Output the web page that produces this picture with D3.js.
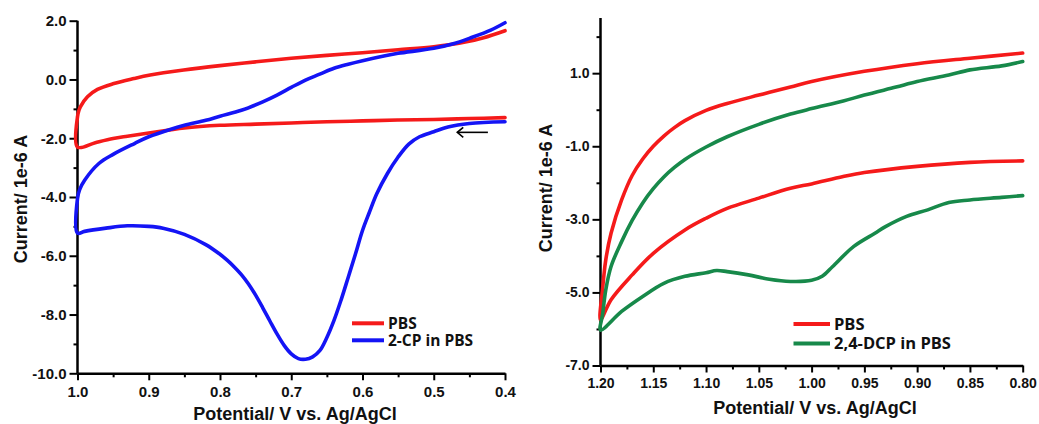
<!DOCTYPE html>
<html>
<head>
<meta charset="utf-8">
<script src="https://cdn.jsdelivr.net/npm/d3@7"></script>
<style>
  html, body { margin: 0; padding: 0; background: #fff; }
  svg { display: block; }
  .tick text { font-family: "Liberation Sans", Arial, sans-serif; font-weight: bold; fill: #111; }
  .title { font-family: "Liberation Sans", Arial, sans-serif; font-weight: bold; font-size: 18px; fill: #111; }
  .legend { font-family: "Open Sans", sans-serif; font-weight: bold; fill: #111; }
</style>
</head>
<body>
<svg id="chart" width="1039" height="424"></svg>
<script>
// ---------- Left panel data: potential (V) , current (1e-6 A) ----------
const leftPBS = [
  [0.40,-1.30],[0.45,-1.33],[0.50,-1.36],[0.55,-1.38],[0.60,-1.41],[0.65,-1.44],[0.70,-1.48],[0.75,-1.52],
  [0.80,-1.56],[0.85,-1.65],[0.90,-1.82],[0.93,-1.93],[0.95,-2.01],[0.975,-2.15],[1.00,-2.30],
  [1.00,-1.27],[0.998,-1.05],[0.996,-0.93],[0.986,-0.59],[0.972,-0.34],[0.949,-0.14],[0.921,0.03],
  [0.898,0.15],[0.851,0.32],[0.80,0.47],[0.75,0.60],[0.70,0.72],[0.65,0.82],[0.60,0.91],[0.55,1.01],
  [0.50,1.11],[0.454,1.28],[0.43,1.42],[0.40,1.66]
];
const leftCP = [
  [0.40,-1.44],[0.45,-1.50],[0.48,-1.62],[0.50,-1.78],[0.52,-1.95],[0.535,-2.20],[0.55,-2.64],[0.565,-3.20],
  [0.58,-3.89],[0.59,-4.50],[0.60,-5.14],[0.61,-5.95],[0.62,-6.73],[0.63,-7.50],[0.64,-8.20],[0.65,-8.78],
  [0.66,-9.23],[0.67,-9.44],[0.68,-9.52],[0.69,-9.50],[0.70,-9.34],[0.71,-9.05],[0.72,-8.66],[0.73,-8.22],
  [0.74,-7.77],[0.75,-7.34],[0.76,-6.96],[0.77,-6.64],[0.78,-6.38],[0.79,-6.15],[0.80,-5.95],[0.82,-5.62],
  [0.85,-5.27],[0.88,-5.06],[0.90,-5.00],[0.93,-4.98],[0.96,-5.06],[0.99,-5.17],[1.00,-5.23],
  [1.00,-4.05],[0.997,-3.75],[0.99,-3.43],[0.97,-2.86],[0.95,-2.55],[0.92,-2.18],[0.90,-1.95],[0.87,-1.70],
  [0.85,-1.56],[0.82,-1.39],[0.80,-1.25],[0.77,-1.05],[0.74,-0.76],[0.72,-0.53],[0.70,-0.27],[0.68,-0.02],
  [0.66,0.18],[0.64,0.38],[0.62,0.52],[0.60,0.64],[0.57,0.80],[0.55,0.89],[0.50,1.06],[0.47,1.23],
  [0.45,1.40],[0.42,1.68],[0.40,1.93]
];
const leftXTicks = [1.0,0.9,0.8,0.7,0.6,0.5,0.4];
const leftXMinor = [0.95,0.85,0.75,0.65,0.55,0.45];
const leftYTicks = [2,0,-2,-4,-6,-8,-10];
const leftYMinor = [1,-1,-3,-5,-7,-9];
const leftLegend = ["PBS","2-CP in PBS"];

// ---------- Right panel data ----------
const rightPBS = [
  [0.80,-1.40],[0.85,-1.44],[0.90,-1.55],[0.95,-1.72],[0.97,-1.83],[1.00,-2.03],[1.02,-2.15],[1.05,-2.42],
  [1.08,-2.70],[1.10,-2.97],[1.12,-3.29],[1.15,-3.93],[1.17,-4.52],[1.19,-5.20],[1.20,-5.75],
  [1.198,-4.90],[1.195,-4.11],[1.19,-3.38],[1.18,-2.47],[1.17,-1.80],[1.16,-1.35],[1.15,-1.00],[1.14,-0.72],
  [1.13,-0.49],[1.12,-0.30],[1.10,-0.02],[1.08,0.17],[1.05,0.40],[1.02,0.62],[1.00,0.77],[0.95,1.05],
  [0.90,1.26],[0.85,1.41],[0.80,1.55]
];
const rightDCP = [
  [0.80,-2.35],[0.82,-2.40],[0.85,-2.47],[0.87,-2.54],[0.89,-2.74],[0.91,-2.92],[0.93,-3.20],[0.94,-3.38],
  [0.96,-3.74],[0.98,-4.29],[0.99,-4.56],[1.00,-4.67],[1.02,-4.70],[1.04,-4.64],[1.06,-4.52],[1.08,-4.43],
  [1.09,-4.40],[1.10,-4.46],[1.12,-4.56],[1.14,-4.75],[1.16,-5.11],[1.18,-5.52],[1.20,-6.03],
  [1.198,-5.60],[1.195,-4.93],[1.19,-4.29],[1.18,-3.61],[1.17,-3.03],[1.16,-2.55],[1.15,-2.16],[1.14,-1.84],
  [1.13,-1.58],[1.12,-1.36],[1.10,-1.02],[1.08,-0.74],[1.05,-0.40],[1.02,-0.12],[1.00,0.03],[0.97,0.24],
  [0.95,0.40],[0.92,0.62],[0.90,0.77],[0.87,0.95],[0.85,1.09],[0.82,1.20],[0.80,1.32]
];
const rightXTicks = [1.20,1.15,1.10,1.05,1.00,0.95,0.90,0.85,0.80];
const rightXMinor = [1.175,1.125,1.075,1.025,0.975,0.925,0.875,0.825];
const rightYTicks = [1,-1,-3,-5,-7];
const rightYMinor = [2,0,-2,-4,-6];
const rightLegend = ["PBS","2,4-DCP in PBS"];

const axisTitleX = "Potential/ V vs. Ag/AgCl";
const axisTitleY = "Current/ 1e-6 A";

const RED = "#f51a1a", BLUE = "#1414f5", GREEN = "#17894a";

const svg = d3.select("#chart");

function panel(cfg) {
  const g = svg.append("g");
  const x = d3.scaleLinear().domain(cfg.xDomain).range([cfg.x0, cfg.x1]);
  const y = d3.scaleLinear().domain(cfg.yDomain).range([cfg.y1, cfg.y0]);

  // minor ticks
  g.append("g").attr("transform", `translate(0,${cfg.y1})`)
    .call(d3.axisBottom(x).tickValues(cfg.xMinor).tickSize(4).tickFormat(""))
    .call(a => a.select(".domain").remove())
    .call(a => a.selectAll("line").attr("stroke", "#000").attr("stroke-width", 2));
  g.append("g").attr("transform", `translate(${cfg.x0},0)`)
    .call(d3.axisLeft(y).tickValues(cfg.yMinor).tickSize(4).tickFormat(""))
    .call(a => a.select(".domain").remove())
    .call(a => a.selectAll("line").attr("stroke", "#000").attr("stroke-width", 2));

  // major axes
  const xa = g.append("g").attr("transform", `translate(0,${cfg.y1})`)
    .call(d3.axisBottom(x).tickValues(cfg.xTicks).tickSize(7).tickSizeOuter(0).tickPadding(6)
      .tickFormat(d => d.toFixed(cfg.xDec)));
  const ya = g.append("g").attr("transform", `translate(${cfg.x0},0)`)
    .call(d3.axisLeft(y).tickValues(cfg.yTicks).tickSize(8).tickSizeOuter(0).tickPadding(3)
      .tickFormat(d => d.toFixed(1)));
  [xa, ya].forEach(a => {
    a.select(".domain").attr("stroke", "#000").attr("stroke-width", 2.5);
    a.selectAll(".tick line").attr("stroke", "#000").attr("stroke-width", 2);
    a.selectAll(".tick text").style("font-size", cfg.tickFont + "px");
  });
  // extend y domain line to the top
  ya.select(".domain").attr("d", `M0,${cfg.y0}V${cfg.y1}`);

  const line = d3.line().x(d => x(d[0])).y(d => y(d[1])).curve(d3.curveCatmullRom.alpha(0.5));
  cfg.series.forEach(s => {
    g.append("path").datum(s.data)
      .attr("fill", "none").attr("stroke", s.color).attr("stroke-width", 3.6)
      .attr("stroke-linejoin", "round").attr("stroke-linecap", "round")
      .attr("d", line);
  });

  // axis titles
  g.append("text").attr("class", "title").attr("text-anchor", "middle")
    .attr("x", cfg.xtX).attr("y", cfg.xtY).text(axisTitleX);
  g.append("text").attr("class", "title").attr("text-anchor", "middle")
    .attr("transform", `translate(${cfg.ytX},${cfg.ytY}) rotate(-90)`).text(axisTitleY);

  // legend
  cfg.series.forEach((s, i) => {
    const ly = cfg.legY + i * cfg.legDy;
    g.append("line").attr("x1", cfg.legX).attr("x2", cfg.legX + cfg.legW)
      .attr("y1", ly).attr("y2", ly).attr("stroke", s.color).attr("stroke-width", 4);
    g.append("text").attr("class", "legend").attr("x", cfg.legX + cfg.legW + 4).attr("y", ly)
      .attr("dy", "0.36em").style("font-size", cfg.legFont + "px").text(s.label);
  });
  return {g, x, y};
}

const L = panel({
  xDomain: [1.0, 0.4], yDomain: [-10, 2],
  x0: 77.5, x1: 505, y0: 20.7, y1: 373.3,
  xTicks: leftXTicks, xMinor: leftXMinor, yTicks: leftYTicks, yMinor: leftYMinor,
  xDec: 1, tickFont: 15,
  series: [{data: leftPBS, color: RED, label: leftLegend[0]}, {data: leftCP, color: BLUE, label: leftLegend[1]}],
  xtX: 295, xtY: 420, ytX: 27, ytY: 199,
  legX: 352, legW: 32, legY: 323.3, legDy: 17, legFont: 15.5
});

const R = panel({
  xDomain: [1.2, 0.8], yDomain: [-7, 2.51],
  x0: 600.5, x1: 1022.7, y0: 18, y1: 365.5,
  xTicks: rightXTicks, xMinor: rightXMinor, yTicks: rightYTicks, yMinor: rightYMinor,
  xDec: 2, tickFont: 14,
  series: [{data: rightPBS, color: RED, label: rightLegend[0]}, {data: rightDCP, color: GREEN, label: rightLegend[1]}],
  xtX: 815, xtY: 414, ytX: 552, ytY: 188,
  legX: 793.5, legW: 36.5, legY: 324, legDy: 19.5, legFont: 16.5
});

// scan-direction arrow (left panel)
const arrowY = L.y(-1.8);
const arrowG = L.g.append("g").attr("stroke", "#000").attr("stroke-width", 1.6).attr("fill", "none");
arrowG.append("line").attr("x1", L.x(0.424)).attr("x2", L.x(0.467)).attr("y1", arrowY).attr("y2", arrowY);
arrowG.append("path").attr("d", `M${L.x(0.467) + 6},${arrowY - 5}L${L.x(0.467)},${arrowY}L${L.x(0.467) + 6},${arrowY + 5}`);
</script>
</body>
</html>
